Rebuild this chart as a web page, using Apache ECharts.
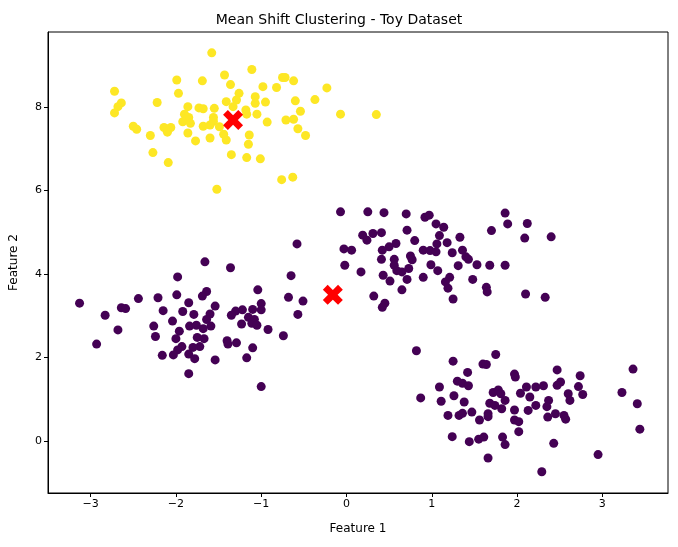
<!DOCTYPE html>
<html><head><meta charset="utf-8">
<script src="https://cdn.jsdelivr.net/npm/echarts@6/dist/echarts.min.js"></script>
<style>html,body{margin:0;padding:0;background:#fff}#c{width:678px;height:547px}</style>
</head><body><div id="c"></div>
<script>
const clusterYellow = [
[-1.58,9.30],[-1.11,8.90],[-1.43,8.77],[-1.99,8.65],[-1.69,8.63],[-1.36,8.54],[-0.75,8.71],[-0.72,8.71],[-0.62,8.63],[-0.98,8.49],
[-0.82,8.47],[-0.23,8.46],[-2.72,8.38],[-1.97,8.33],[-1.26,8.33],[-1.07,8.25],[-0.37,8.18],[-0.60,8.15],[-2.64,8.10],[-2.22,8.11],
[-1.41,8.13],[-1.29,8.17],[-1.07,8.09],[-0.95,8.12],[-2.68,8.01],[-1.86,8.01],[-1.73,7.98],[-1.68,7.96],[-1.55,7.97],[-1.33,8.01],
[-1.18,7.93],[-0.54,7.90],[-2.72,7.86],[-0.07,7.83],[0.35,7.82],[-1.90,7.83],[-1.85,7.75],[-1.56,7.75],[-1.17,7.83],[-1.05,7.83],
[-0.93,7.64],[-0.71,7.69],[-0.62,7.71],[-1.92,7.65],[-1.83,7.61],[-1.56,7.66],[-1.68,7.54],[-1.60,7.57],[-1.49,7.53],[-2.50,7.54],
[-2.46,7.47],[-2.14,7.51],[-2.06,7.51],[-2.10,7.40],[-0.57,7.48],[-2.30,7.32],[-1.86,7.38],[-1.44,7.35],[-1.14,7.33],[-0.48,7.32],
[-1.77,7.19],[-1.60,7.26],[-1.41,7.21],[-1.15,7.11],[-2.27,6.91],[-1.35,6.86],[-1.17,6.79],[-1.01,6.76],[-2.09,6.67],[-0.63,6.32],
[-0.76,6.26],[-1.52,6.03]
];
const clusterPurple = [
[-0.58,4.72],[-1.66,4.29],[-1.36,4.15],[-1.98,3.93],[-0.65,3.96],[-1.04,3.62],[-1.64,3.58],[-1.69,3.47],[-1.99,3.50],[-3.13,3.30],
[-2.44,3.41],[-2.21,3.43],[-0.68,3.44],[-0.51,3.35],[-1.85,3.31],[-1.54,3.23],[-1.00,3.29],[-2.64,3.19],[-2.59,3.17],[-2.15,3.12],
[-1.92,3.10],[-1.30,3.11],[-1.22,3.14],[-1.10,3.15],[-1.00,3.14],[-2.83,3.01],[-1.79,3.03],[-1.60,3.04],[-1.35,3.01],[-0.57,3.03],
[-1.15,2.96],[-1.08,2.91],[-1.64,2.91],[-2.04,2.87],[-1.23,2.80],[-1.11,2.82],[-1.05,2.77],[-1.84,2.75],[-1.76,2.77],[-1.59,2.75],
[-2.26,2.75],[-1.68,2.69],[-2.68,2.66],[-1.96,2.63],[-0.92,2.67],[-2.24,2.50],[-2.00,2.45],[-1.75,2.48],[-1.67,2.45],[-0.74,2.52],
[-1.40,2.40],[-1.29,2.35],[-1.39,2.32],[-2.93,2.32],[-1.72,2.26],[-1.93,2.26],[-1.80,2.24],[-1.10,2.23],[-1.98,2.18],[-2.16,2.05],
[-2.03,2.06],[-1.85,2.08],[-1.78,1.97],[-1.17,1.99],[-1.54,1.94],[-1.85,1.61],[-1.00,1.30]
];
const clusterPurple2 = [
[-0.07,5.49],[0.25,5.49],[0.44,5.47],[0.70,5.44],[0.92,5.36],[0.97,5.41],[1.86,5.46],[1.05,5.20],[1.14,5.12],[1.89,5.20],
[2.12,5.21],[0.71,5.05],[1.70,5.04],[0.19,4.93],[0.31,4.97],[0.41,4.99],[0.24,4.81],[1.09,4.92],[1.33,4.88],[2.09,4.86],
[2.40,4.89],[0.80,4.80],[0.58,4.73],[1.18,4.75],[0.50,4.65],[1.06,4.72],[-0.03,4.60],[0.06,4.57],[0.42,4.57],[0.90,4.57],
[0.98,4.56],[1.05,4.53],[1.36,4.57],[1.24,4.51],[0.75,4.43],[1.40,4.41],[0.41,4.35],[0.56,4.35],[0.77,4.34],[1.43,4.35],
[-0.02,4.21],[0.56,4.21],[0.99,4.22],[1.31,4.20],[1.53,4.22],[1.68,4.21],[1.86,4.21],[0.17,4.05],[0.59,4.08],[0.73,4.13],
[1.07,4.08],[0.43,3.97],[0.65,4.05],[0.90,3.92],[0.71,3.87],[0.51,3.83],[1.21,3.92],[1.16,3.81],[1.48,3.87],[1.19,3.66],
[1.64,3.68],[1.65,3.57],[0.65,3.62],[0.32,3.47],[2.10,3.52],[2.33,3.44],[1.25,3.40],[0.45,3.30],[0.42,3.20]
];
const clusterPurple3 = [
[0.82,2.16],[1.25,1.91],[1.75,2.07],[1.60,1.84],[1.64,1.83],[1.42,1.64],[1.97,1.60],[1.98,1.53],[2.47,1.70],[2.74,1.56],
[3.36,1.72],[1.09,1.29],[1.30,1.43],[1.36,1.38],[1.43,1.32],[2.51,1.41],[2.47,1.33],[2.72,1.30],[2.11,1.29],[2.22,1.29],
[2.31,1.32],[1.72,1.16],[1.78,1.22],[1.81,1.13],[2.04,1.14],[2.15,1.05],[2.60,1.13],[2.62,0.97],[2.77,1.11],[3.23,1.16],
[3.41,0.89],[0.87,1.03],[1.11,0.95],[1.26,1.08],[1.38,0.93],[1.68,0.90],[1.86,0.97],[1.82,0.77],[1.74,0.85],[2.22,0.85],
[2.37,0.97],[2.35,0.82],[2.13,0.73],[1.97,0.74],[1.19,0.61],[1.32,0.61],[1.36,0.66],[1.47,0.69],[1.66,0.65],[1.66,0.58],
[1.56,0.50],[2.36,0.57],[2.45,0.65],[2.55,0.61],[2.57,0.52],[1.97,0.50],[2.02,0.46],[3.44,0.28],[1.24,0.10],[1.44,-0.02],
[1.55,0.04],[1.61,0.09],[1.83,0.09],[1.86,-0.09],[2.02,0.22],[2.43,-0.06],[2.95,-0.33],[1.66,-0.41],[2.29,-0.74]
];
const centers = [[-1.33,7.69],[-0.16,3.50]];
const xTicks = [-3,-2,-1,0,1,2,3];
const yTicks = [0,2,4,6,8];

const purple = clusterPurple.concat(clusterPurple2, clusterPurple3);
const font = 'DejaVu Sans';
const fmt = v => String(v).replace('-', '\u2212');
const chart = echarts.init(document.getElementById('c'));
chart.setOption({
  animation:false,
  title:{text:'Mean Shift Clustering - Toy Dataset',left:'center',top:8,textStyle:{fontFamily:font,fontSize:14,fontWeight:'normal',color:'#000'}},
  grid:{left:48,right:10,top:32,bottom:54,show:true,borderColor:'#000',borderWidth:1},
  xAxis:{type:'value',min:-3.5,max:3.77,name:'Feature 1',nameLocation:'middle',nameGap:30,
    nameTextStyle:{fontFamily:font,fontSize:12,color:'#000'},
    axisLine:{show:true,onZero:false,lineStyle:{color:'#000'}},splitLine:{show:false},
    axisTick:{show:true,customValues:xTicks,length:4,lineStyle:{color:'#000'}},
    axisLabel:{customValues:xTicks,formatter:fmt,fontFamily:font,fontSize:11,color:'#000',margin:6}},
  yAxis:{type:'value',min:-1.25,max:9.8,name:'Feature 2',nameLocation:'middle',nameGap:28,
    nameTextStyle:{fontFamily:font,fontSize:12,color:'#000'},
    axisLine:{show:true,onZero:false,lineStyle:{color:'#000'}},splitLine:{show:false},
    axisTick:{show:true,customValues:yTicks,length:4,lineStyle:{color:'#000'}},
    axisLabel:{customValues:yTicks,formatter:fmt,fontFamily:font,fontSize:11,color:'#000',margin:6}},
  series:[
    {type:'scatter',data:purple,symbolSize:9,itemStyle:{color:'#440154',opacity:1}},
    {type:'scatter',data:clusterYellow,symbolSize:9,itemStyle:{color:'#fde725',opacity:1}},
    {type:'scatter',data:centers,symbolSize:20,z:5,
     symbol:'path://M2.4,0 L5,2.6 L7.6,0 L10,2.4 L7.4,5 L10,7.6 L7.6,10 L5,7.4 L2.4,10 L0,7.6 L2.6,5 L0,2.4 Z',
     itemStyle:{color:'#ff0000',opacity:1}}
  ]
});
</script></body></html>
